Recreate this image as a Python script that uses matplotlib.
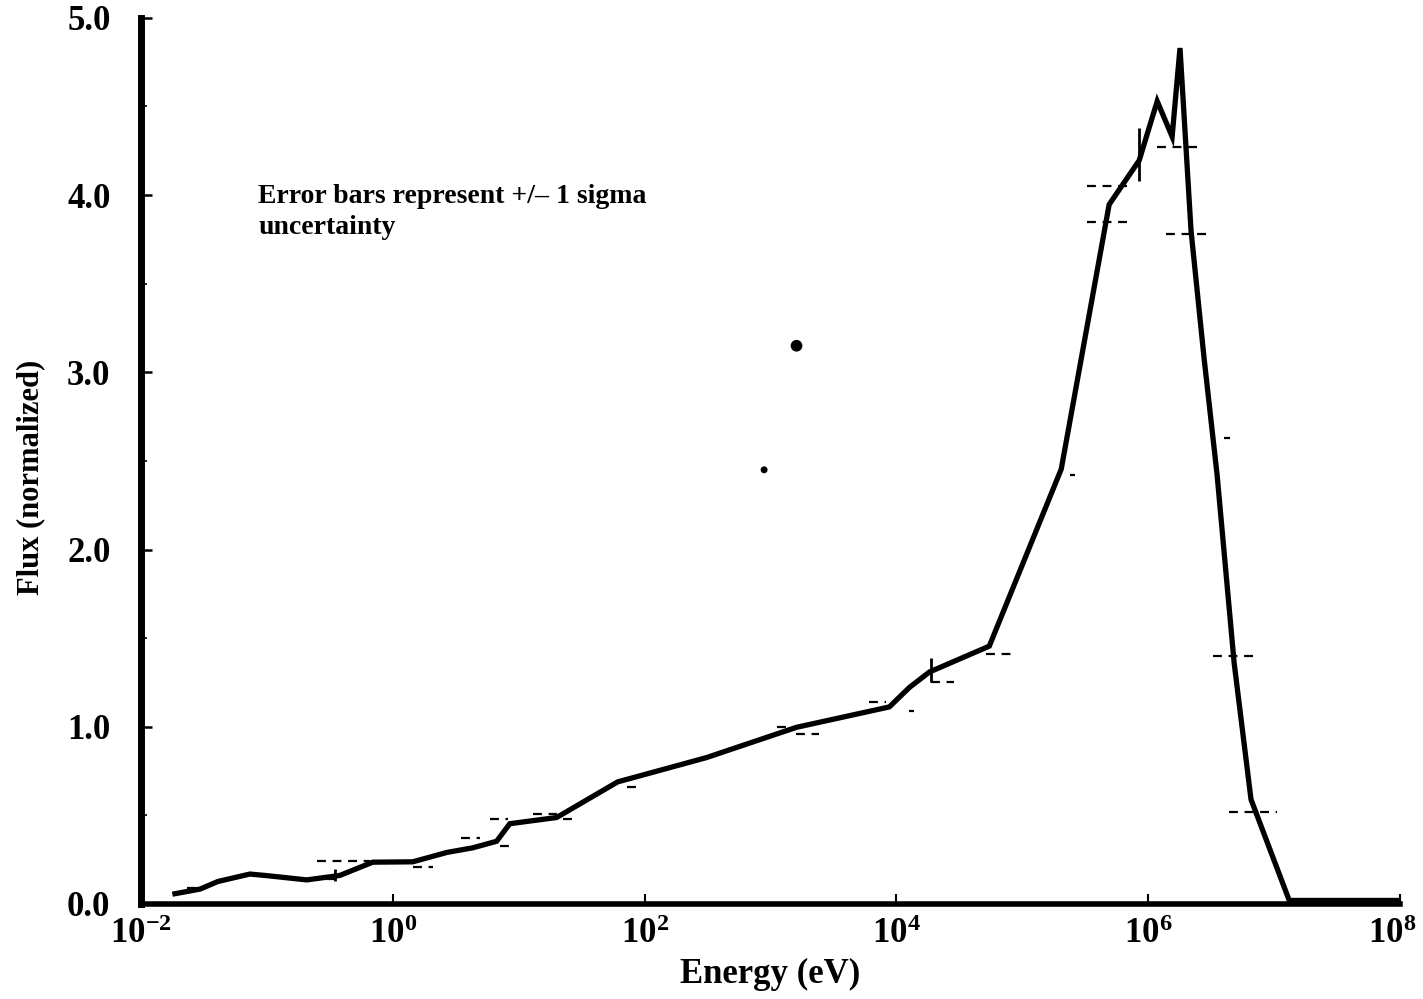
import matplotlib
matplotlib.use("Agg")
import matplotlib.pyplot as plt
import matplotlib.transforms as mtransforms
from matplotlib.ticker import FixedLocator, FixedFormatter, NullLocator

plt.rcParams['font.family'] = ['Liberation Serif', 'DejaVu Serif']
plt.rcParams['font.weight'] = 'bold'
plt.rcParams['mathtext.fontset'] = 'custom'
plt.rcParams['mathtext.rm'] = 'Liberation Serif:bold'
plt.rcParams['mathtext.bf'] = 'Liberation Serif:bold'

# ---- data ----
energy_eV = [0.0186, 0.0294, 0.0408, 0.0733, 0.100, 0.207, 0.379, 0.693, 1.44,
             2.69, 4.32, 6.68, 8.49, 20.0, 61.1, 310, 1610, 8790, 12700, 18300,
             54700, 204000, 490000, 849000, 1.18e6, 1.55e6, 1.79e6, 2.19e6,
             2.78e6, 3.53e6, 4.82e6, 6.56e6, 1.32e7, 1.0e8]
flux = [0.058, 0.084, 0.127, 0.169, 0.16, 0.136, 0.161, 0.236, 0.238,
        0.291, 0.317, 0.354, 0.453, 0.488, 0.689, 0.826, 0.997, 1.112, 1.222, 1.309,
        1.455, 2.454, 3.947, 4.196, 4.53, 4.33, 4.83, 3.80,
        3.08, 2.42, 1.36, 0.59, 0.02, 0.02]

# horizontal +/- 1 sigma marks: energy start, energy end, flux level
err_E_start = [3.28e5, 3.28e5, 1.18e6, 1.39e6, 4.0e6, 3.28e6, 4.4e6, 5.18e4, 2.4e5,
               1.9e4, 6.1e3, 1.27e4, 1.6e3, 1.12e3, 72, 5.9, 3.5, 7.1, 12.9, 22.3,
               1.44, 0.249, 0.30, 0.023]
err_E_end = [7.06e5, 7.5e5, 2.69e6, 2.88e6, 4.5e6, 7.6e6, 1.06e7, 8.34e4, 2.6e5,
             2.88e4, 8.3e3, 1.39e4, 2.45e3, 1.42e3, 91, 8.2, 4.9, 9.0, 20, 28.8,
             2.08, 0.656, 0.38, 0.028]
err_flux = [4.05, 3.85, 4.27, 3.78, 2.63, 1.40, 0.52, 1.41, 2.42,
            1.25, 1.14, 1.09, 0.96, 1.00, 0.66, 0.48, 0.37, 0.33, 0.51, 0.48,
            0.21, 0.24, 0.14, 0.09]

# vertical error bars: energy, low, high
verr_E = [8.49e5, 1.9e4, 0.347]
verr_lo = [4.08, 1.25, 0.13]
verr_hi = [4.38, 1.39, 0.20]

# stray points in the scan
stray_E = [1610, 890]
stray_flux = [3.15, 2.45]
stray_size = [55, 16]

x_ticks = [1e-2, 1e0, 1e2, 1e4, 1e6, 1e8]
x_tick_labels = [r'$\mathbf{10^{-2}}$', r'$\mathbf{10^{0}}$', r'$\mathbf{10^{2}}$',
                 r'$\mathbf{10^{4}}$', r'$\mathbf{10^{6}}$', r'$\mathbf{10^{8}}$']
y_ticks = [0.0, 1.0, 2.0, 3.0, 4.0, 5.0]
y_tick_labels = ['0.0', '1.0', '2.0', '3.0', '4.0', '5.0']
y_minor = [0.5, 1.5, 2.5, 3.5, 4.5]

# ---- figure ----
fig = plt.figure(figsize=(14.23, 9.99), dpi=100)
ax = fig.add_axes([0.0991, 0.0951, 0.8847, 0.887])

ax.plot(energy_eV, flux, color='black', lw=3.8, solid_joinstyle='miter', zorder=3)
ax.hlines(err_flux, err_E_start, err_E_end, colors='black', lw=1.6,
          linestyles=(0, (4, 3)), zorder=2)
ax.vlines(verr_E, verr_lo, verr_hi, colors='black', lw=2.0, zorder=2)
ax.scatter(stray_E, stray_flux, s=stray_size, color='black', zorder=3)

ax.set_xscale('log')
ax.set_xlim(1e-2, 1e8)
ax.set_ylim(0, 5.0)

ax.xaxis.set_major_locator(FixedLocator(x_ticks))
ax.xaxis.set_major_formatter(FixedFormatter(x_tick_labels))
ax.xaxis.set_minor_locator(NullLocator())
ax.yaxis.set_major_locator(FixedLocator(y_ticks))
ax.yaxis.set_major_formatter(FixedFormatter(y_tick_labels))
ax.yaxis.set_minor_locator(FixedLocator(y_minor))

for s in ['top', 'right']:
    ax.spines[s].set_visible(False)
ax.spines['left'].set_linewidth(5)
ax.spines['bottom'].set_linewidth(4)

ax.tick_params(axis='x', which='major', direction='in', length=7, width=1.5,
               labelsize=25, pad=10)
ax.tick_params(axis='y', which='major', direction='in', length=8, width=1.8,
               labelsize=25, pad=22)
ax.tick_params(axis='y', which='minor', direction='in', length=4, width=1.2)

# keep the last x tick label inside the canvas
fig.canvas.draw()
last = ax.get_xticklabels()[-1]
last.set_transform(last.get_transform() +
                   mtransforms.ScaledTranslation(-8 / 100, 0, fig.dpi_scale_trans))

ax.set_xlabel('Energy (eV)', fontsize=25, fontweight='bold')
ax.xaxis.set_label_coords(0.5, -0.061)
ax.set_ylabel('Flux (normalized)', fontsize=22, fontweight='bold')
ax.yaxis.set_label_coords(-0.076, 0.481)

ax.text(0.085, 4.065, 'Error bars represent +/\u2013 1 sigma\nuncertainty',
        fontsize=20, fontweight='bold', ha='left', va='top', linespacing=1.35)

fig.savefig('out.png', dpi=100)
